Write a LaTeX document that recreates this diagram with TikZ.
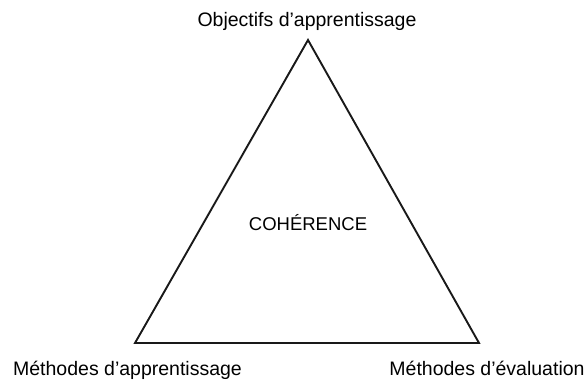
\documentclass[tikz,border=0pt]{standalone}
\usepackage{fontspec}
\setmainfont{Liberation Sans}
\begin{document}
\begin{tikzpicture}[x=1pt,y=-1pt,
  lbl/.style={anchor=base,inner sep=0pt,font=\fontsize{19.5}{22}\selectfont},
  ctr/.style={anchor=base,inner sep=0pt,font=\fontsize{18.5}{21}\selectfont},
  side/.style={line width=1.9pt,line join=miter,draw=black!90}]
  \useasboundingbox (0,0) rectangle (588,382);
  % triangle corners
  \coordinate (top) at (308,40);
  \coordinate (bl) at (135,343);
  \coordinate (br) at (479,343);
  \draw[side] (top) -- (bl) -- (br) -- cycle;
  % corner labels
  \node[lbl] (tlab) at (307,27) {Objectifs d’apprentissage};
  \node[lbl] (llab) at (127.5,375) {Méthodes d’apprentissage};
  \node[lbl] (rlab) at (487,375) {Méthodes d’évaluation};
  % centre label
  \node[ctr] (mid) at (308,230) {COHÉRENCE};
\end{tikzpicture}
\end{document}
